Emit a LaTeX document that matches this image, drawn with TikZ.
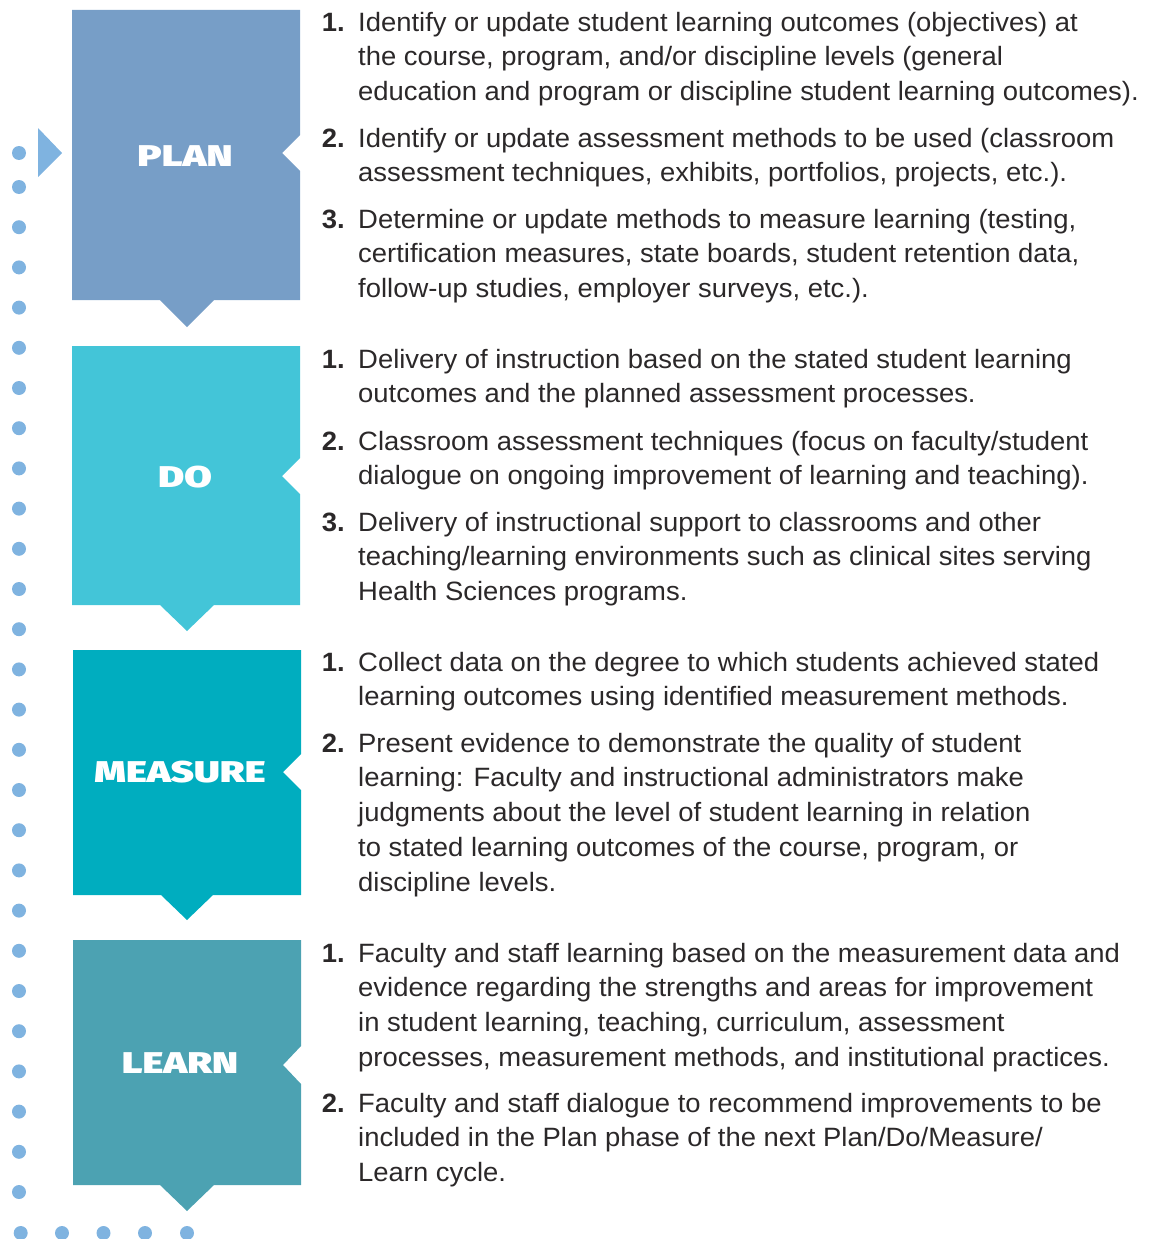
\documentclass[tikz,border=0pt]{standalone}
\usepackage{fontspec}
\setmainfont[FakeStretch=1.035]{Liberation Sans}
\newfontfamily\headfont[UprightFont={* Black},FakeStretch=1.33]{Fira Sans}
\usetikzlibrary{positioning}

\definecolor{plancol}{HTML}{779EC7}
\definecolor{docol}{HTML}{43C5D8}
\definecolor{meascol}{HTML}{00ADBF}
\definecolor{learncol}{HTML}{4CA2B2}
\definecolor{dotcol}{HTML}{7FB3E0}
\definecolor{txtcol}{HTML}{2B2829}

\newcommand{\itemfont}{\fontsize{26.5}{34.8}\selectfont}

\tikzset{
  item/.style={anchor=north west, align=left, inner sep=0pt, text=txtcol, font=\itemfont},
  num/.style={anchor=north east, inner sep=0pt, text=txtcol, font=\itemfont\bfseries},
  phase/.style={text=white, inner sep=0pt, font=\headfont\fontsize{30}{32}\selectfont},
  dot/.style={fill=dotcol},
}

\begin{document}
\begin{tikzpicture}[x=1pt,y=-1pt]
\useasboundingbox (0,0) rectangle (1151,1239);

% dotted line on the left
\fill[dotcol] (38,128) -- (62,153) -- (38,177) -- cycle;
\fill[dot] (19,153) circle (7);
\foreach \k in {0,...,25} {
  \fill[dot] (19,187+40.2*\k) circle (7);
}
\foreach \xx in {20.7,62,103.5,145,187} {
  \fill[dot] (\xx,1233) circle (7);
}

%--------------------------------------------------------
% the four boxes
\fill[plancol] (72,10) -- (300,10) -- (300,135) -- (282,153) -- (300,171) -- (300,300)
  -- (214,300) -- (187,327) -- (160,300) -- (72,300) -- cycle;
\fill[docol] (72,346) -- (300,346) -- (300,458) -- (282,476) -- (300,494) -- (300,605)
  -- (214,605) -- (187,631) -- (160,605) -- (72,605) -- cycle;
\fill[meascol] (73,650) -- (301,650) -- (301,754) -- (283,772) -- (301,790) -- (301,895)
  -- (213,895) -- (187,920) -- (161,895) -- (73,895) -- cycle;
\fill[learncol] (73,940) -- (301,940) -- (301,1046) -- (283,1065) -- (301,1084) -- (301,1185)
  -- (214,1185) -- (187,1211) -- (160,1185) -- (73,1185) -- cycle;

\node[phase] (plan) at (185,156) {PLAN};
\node[phase] (do) at (185,477) {DO};
\node[phase] (measure) at (180,772) {MEASURE};
\node[phase] (learn) at (180,1063) {LEARN};

%--------------------------------------------------------
% plan
\node[item] (plan1) at (358,6.6) {\strut Identify or update student learning outcomes (objectives) at\\
  the course, program, and/or discipline levels (general\\
  education and program or discipline student learning outcomes).};
\node[item] (plan2) at (358,122.6) {\strut Identify or update assessment methods to be used (classroom\\
  assessment techniques, exhibits, portfolios, projects, etc.).};
\node[item] (plan3) at (358,203.6) {\strut Determine or update methods to measure learning (testing,\\
  certification measures, state boards, student retention data,\\
  follow-up studies, employer surveys, etc.).};
\node[num] (plan1n) at ([xshift=-13pt]plan1.north west) {\strut 1.};
\node[num] (plan2n) at ([xshift=-13pt]plan2.north west) {\strut 2.};
\node[num] (plan3n) at ([xshift=-13pt]plan3.north west) {\strut 3.};

% do
\node[item] (do1) at (358,343.6) {\strut Delivery of instruction based on the stated student learning\\
  outcomes and the planned assessment processes.};
\node[item] (do2) at (358,425.6) {\strut Classroom assessment techniques (focus on faculty/student\\
  dialogue on ongoing improvement of learning and teaching).};
\node[item] (do3) at (358,506.6) {\strut Delivery of instructional support to classrooms and other\\
  teaching/learning environments such as clinical sites serving\\
  Health Sciences programs.};
\node[num] (do1n) at ([xshift=-13pt]do1.north west) {\strut 1.};
\node[num] (do2n) at ([xshift=-13pt]do2.north west) {\strut 2.};
\node[num] (do3n) at ([xshift=-13pt]do3.north west) {\strut 3.};

% measure
\node[item] (meas1) at (358,646.6) {\strut Collect data on the degree to which students achieved stated\\
  learning outcomes using identified measurement methods.};
\node[item] (meas2) at (358,727.6) {\strut Present evidence to demonstrate the quality of student\\
  learning: Faculty and instructional administrators make\\
  judgments about the level of student learning in relation\\
  to stated learning outcomes of the course, program, or\\
  discipline levels.};
\node[num] (meas1n) at ([xshift=-13pt]meas1.north west) {\strut 1.};
\node[num] (meas2n) at ([xshift=-13pt]meas2.north west) {\strut 2.};

% learn
\node[item] (learn1) at (358,937.6) {\strut Faculty and staff learning based on the measurement data and\\
  evidence regarding the strengths and areas for improvement\\
  in student learning, teaching, curriculum, assessment\\
  processes, measurement methods, and institutional practices.};
\node[item] (learn2) at (358,1087.6) {\strut Faculty and staff dialogue to recommend improvements to be\\
  included in the Plan phase of the next Plan/Do/Measure/\\
  Learn cycle.};
\node[num] (learn1n) at ([xshift=-13pt]learn1.north west) {\strut 1.};
\node[num] (learn2n) at ([xshift=-13pt]learn2.north west) {\strut 2.};
\end{tikzpicture}
\end{document}
